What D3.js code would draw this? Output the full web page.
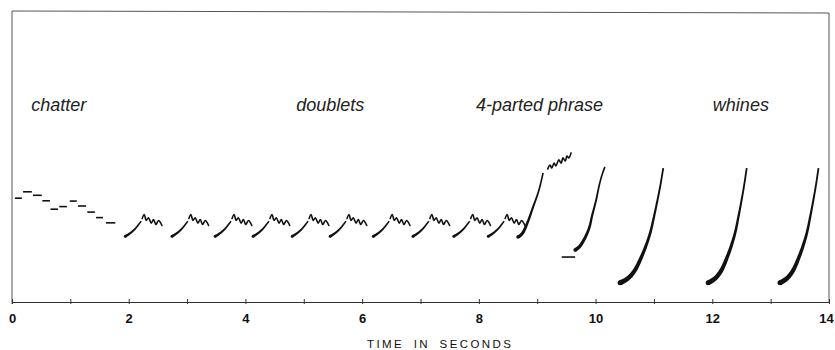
<!DOCTYPE html>
<html>
<head>
<meta charset="utf-8">
<script src="https://cdn.jsdelivr.net/npm/d3@7"></script>
<style>
  body { margin: 0; background: #fff; }
</style>
</head>
<body>
<div id="chart"></div>
<script>
// chatter notes: [start s, end s, kHz]
const chatter = [
  [0.05, 0.17, 3.58], [0.19, 0.34, 3.80], [0.36, 0.51, 3.68], [0.52, 0.65, 3.49],
  [0.66, 0.79, 3.20], [0.81, 0.94, 3.29], [0.99, 1.11, 3.48], [1.13, 1.27, 3.31],
  [1.29, 1.42, 3.10], [1.44, 1.56, 2.91], [1.61, 1.77, 2.73]
];

// doublets: onset times, base frequency, contour relative to onset [ds, dkHz]
const doubletStart = [1.94, 2.74, 3.48, 4.13, 4.80, 5.45, 6.19, 6.87, 7.57, 8.16];
const doubletBase = 2.26;
const doubletRise = [[0, 0], [0.086, 0.114], [0.171, 0.266], [0.240, 0.438], [0.274, 0.528]];
const doubletTrill = [
  [0.291, 0.621], [0.326, 0.759], [0.360, 0.552], [0.399, 0.645], [0.446, 0.459],
  [0.485, 0.586], [0.526, 0.414], [0.571, 0.552], [0.629, 0.379]
];

// 4-parted phrase
const phraseRise1 = [[8.67, 2.24], [8.74, 2.35], [8.83, 2.72], [8.93, 3.28], [9.03, 3.86], [9.10, 4.45]];
const phraseTrill = [
  [9.18, 4.59], [9.22, 4.72], [9.25, 4.62], [9.29, 4.79], [9.32, 4.69], [9.37, 4.90],
  [9.41, 4.79], [9.44, 4.97], [9.48, 4.86], [9.51, 5.03], [9.54, 4.97], [9.58, 5.14]
];
const phraseDash = [9.42, 9.65, 1.55];
const phraseRise2 = [
  [9.65, 1.79], [9.72, 1.90], [9.80, 2.14], [9.89, 2.55], [9.94, 2.97],
  [10.01, 3.52], [10.06, 4.00], [10.11, 4.38], [10.16, 4.66]
];

// whines: onset / end times, low / high frequency, normalised contour
const whineStart = [10.42, 11.93, 13.16];
const whineEnd = [11.16, 12.59, 13.82];
const whineLow = 0.66, whineHigh = 4.62;
const whineShape = [
  [0, 0], [0.116, 0.022], [0.233, 0.057], [0.349, 0.113], [0.465, 0.2], [0.581, 0.304],
  [0.698, 0.435], [0.779, 0.565], [0.853, 0.696], [0.930, 0.843], [1, 1]
];

const labels = ["chatter", "doublets", "4-parted phrase", "whines"];
const labelAt = [0.33, 4.87, 7.95, 12.01];
const labelFreq = 6.58;
const ticks = d3.range(0, 15);

const W = 835, H = 350, ink = "#111";
const x = d3.scaleLinear().domain([0, 14]).range([12, 829]);
const y = d3.scaleLinear().domain([0, 10]).range([302, 12]);

const svg = d3.select("#chart").append("svg")
  .attr("width", W).attr("height", H);
const g = svg.append("g");

// frame
g.append("line").attr("x1", x(0)).attr("x2", x(14)).attr("y1", y(10) - 1).attr("y2", y(10) + 1)
  .attr("stroke", "#555").attr("stroke-width", 1);
g.append("line").attr("x1", x(0)).attr("x2", x(0)).attr("y1", y(10) - 1).attr("y2", y(0) + 2)
  .attr("stroke", "#555").attr("stroke-width", 1);
g.append("line").attr("x1", x(14)).attr("x2", x(14)).attr("y1", y(10) + 1).attr("y2", y(0))
  .attr("stroke", "#555").attr("stroke-width", 1);

// time axis
const ax = g.append("g")
  .attr("transform", "translate(0," + y(0) + ")")
  .call(d3.axisBottom(x).tickValues(ticks).tickSizeInner(3).tickSizeOuter(0).tickPadding(9)
    .tickFormat(d => d % 2 ? "" : d));
ax.select(".domain").attr("stroke", "#333");
ax.selectAll(".tick line").attr("y1", -3).attr("y2", 2).attr("stroke", "#333");
ax.selectAll(".tick text")
  .attr("font-family", "Liberation Sans, Arial, sans-serif")
  .attr("font-size", "13px").attr("font-weight", "bold").attr("fill", ink);
ax.selectAll(".tick text").filter(d => d === 14).attr("dx", "-3");

g.append("text")
  .attr("x", 367).attr("y", 348)
  .attr("font-family", "Liberation Sans, Arial, sans-serif")
  .attr("font-size", "11.5px").attr("letter-spacing", "2.4px").attr("word-spacing", "4px")
  .attr("fill", ink)
  .text("TIME IN SECONDS");

// category labels
g.selectAll(".lab").data(labels).enter().append("text")
  .attr("class", "lab")
  .attr("x", (d, i) => x(labelAt[i]))
  .attr("y", y(labelFreq))
  .attr("font-family", "Liberation Sans, Arial, sans-serif")
  .attr("font-style", "italic")
  .attr("font-size", "18px")
  .attr("fill", "#222")
  .text(d => d);

const line = d3.line().x(d => x(d[0])).y(d => y(d[1])).curve(d3.curveCatmullRom.alpha(0.5));

// filled stroke that thins from w0 at the start to w1 at the end
function tapered(pts, w0, w1) {
  const tmp = g.append("path").attr("d", line(pts)).attr("fill", "none");
  const node = tmp.node(), L = node.getTotalLength();
  const n = 48, left = [], right = [];
  for (let i = 0; i <= n; i++) {
    const s = L * i / n;
    const p = node.getPointAtLength(s);
    const q = node.getPointAtLength(Math.min(L, s + 0.6));
    const r = node.getPointAtLength(Math.max(0, s - 0.6));
    let dx = q.x - r.x, dy = q.y - r.y;
    const m = Math.hypot(dx, dy) || 1; dx /= m; dy /= m;
    const k = 1 - i / n;
    const w = (w1 + (w0 - w1) * k * k) / 2;
    left.push([p.x - dy * w, p.y + dx * w]);
    right.push([p.x + dy * w, p.y - dx * w]);
  }
  tmp.remove();
  const poly = left.concat(right.reverse());
  g.append("path")
    .attr("d", "M" + poly.map(p => p.join(",")).join("L") + "Z")
    .attr("fill", ink);
  g.append("circle").attr("cx", x(pts[0][0])).attr("cy", y(pts[0][1])).attr("r", w0 / 2).attr("fill", ink);
}

function trill(pts) {
  g.append("path").attr("d", line(pts))
    .attr("fill", "none").attr("stroke", ink).attr("stroke-width", 1.6)
    .attr("stroke-linecap", "round").attr("stroke-linejoin", "round");
}

// chatter
g.selectAll(".chat").data(chatter).enter().append("line")
  .attr("class", "chat")
  .attr("x1", d => x(d[0])).attr("x2", d => x(d[1]))
  .attr("y1", d => y(d[2])).attr("y2", d => y(d[2]))
  .attr("stroke", ink).attr("stroke-width", 1.6);

// doublets
doubletStart.forEach(t0 => {
  tapered(doubletRise.map(d => [t0 + d[0], doubletBase + d[1]]), 2.8, 1.6);
  trill(doubletTrill.map(d => [t0 + d[0], doubletBase + d[1]]));
});

// 4-parted phrase
tapered(phraseRise1, 3.4, 1.6);
trill(phraseTrill);
g.append("line")
  .attr("x1", x(phraseDash[0])).attr("x2", x(phraseDash[1]))
  .attr("y1", y(phraseDash[2])).attr("y2", y(phraseDash[2]))
  .attr("stroke", ink).attr("stroke-width", 1.6);
tapered(phraseRise2, 3.6, 1.6);

// whines
whineStart.forEach((t0, i) => {
  const t1 = whineEnd[i];
  tapered(whineShape.map(d => [t0 + d[0] * (t1 - t0), whineLow + d[1] * (whineHigh - whineLow)]), 5, 1.8);
});
</script>
</body>
</html>
